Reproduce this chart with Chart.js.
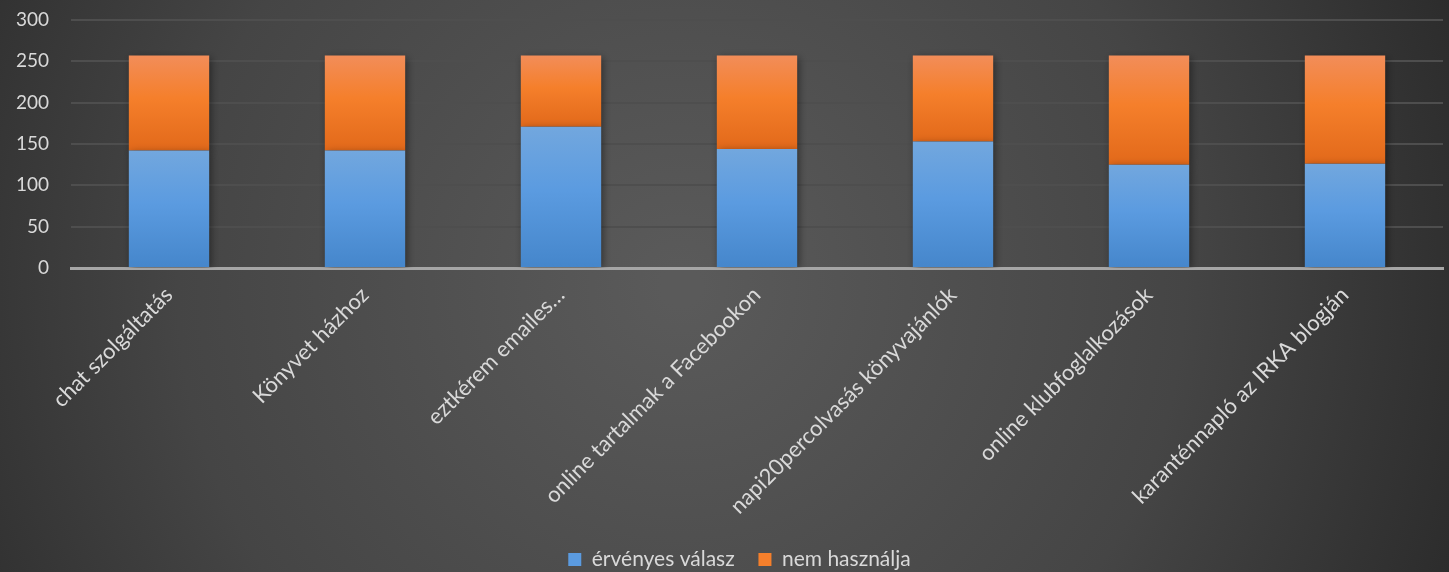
<!DOCTYPE html>
<html>
<head>
<meta charset="utf-8">
<script src="https://cdn.jsdelivr.net/npm/chart.js@4"></script>
<style>
  html, body { margin: 0; padding: 0; background: #3a3a3a; }
  #wrap { width: 1449px; height: 572px; }
</style>
</head>
<body>
<div id="wrap"><canvas id="grafico"></canvas></div>
<script>
// --- adatok ---
const kategoriak = [
    'chat szolgáltatás',
    'Könyvet házhoz',
    'eztkérem emailes…',
    'online tartalmak a Facebookon',
    'napi20percolvasás könyvajánlók',
    'online klubfoglalkozások',
    'karanténnapló az IRKA blogján'
];
const ervenyesValasz = [142, 142, 171, 144, 153, 125, 126];
const nemHasznalja = [115, 115, 86, 113, 104, 132, 131];
const yTicks = [0, 50, 100, 150, 200, 250, 300];

const szovegSzin = '#d9d9d9';
const betu = 'Lato, "Open Sans", sans-serif';

// sötét, középen világosabb háttér
const hatter = {
    id: 'hatter',
    beforeDraw(chart) {
        const { ctx, width, height } = chart;
        const g = ctx.createRadialGradient(width * 0.47, height * 0.5, 20, width * 0.47, height * 0.5, width * 0.62);
        g.addColorStop(0, '#5a5a5a');
        g.addColorStop(0.55, '#454545');
        g.addColorStop(1, '#262626');
        ctx.save();
        ctx.fillStyle = g;
        ctx.fillRect(0, 0, width, height);
        ctx.restore();
    }
};

// oszlopok alatti enyhe árnyék
const arnyek = {
    id: 'arnyek',
    beforeDatasetsDraw(chart) {
        const ctx = chart.ctx;
        ctx.save();
        ctx.shadowColor = 'rgba(0,0,0,0.45)';
        ctx.shadowBlur = 8;
        ctx.shadowOffsetX = 2;
        ctx.shadowOffsetY = 2;
    },
    afterDatasetsDraw(chart) {
        chart.ctx.restore();
    }
};

// jelmagyarázat kicsit jobbra, mint az eredetin
const legendEltolas = {
    id: 'legendEltolas',
    afterLayout(chart) {
        if (chart.legend) {
            chart.legend.left += 18;
            chart.legend.right += 18;
        }
    }
};

function szakaszGradiens(ctx, alsoErtek, felsoErtek, szinek) {
    const chart = ctx.chart;
    const y = chart.scales.y;
    if (!y || !chart.chartArea) return szinek[1];
    const y0 = y.getPixelForValue(alsoErtek);
    const y1 = y.getPixelForValue(felsoErtek);
    const g = chart.ctx.createLinearGradient(0, y1, 0, y0);
    g.addColorStop(0, szinek[0]);
    g.addColorStop(0.45, szinek[1]);
    g.addColorStop(1, szinek[2]);
    return g;
}

const kekSzinek = ['#72a7de', '#5b9be0', '#4586cb'];
const narancsSzinek = ['#f28d59', '#f57f2b', '#e2691a'];

new Chart(document.getElementById('grafico'), {
    type: 'bar',
    data: {
        labels: kategoriak,
        datasets: [
            {
                label: 'érvényes válasz',
                data: ervenyesValasz,
                backgroundColor: (c) => {
                    if (c.type !== 'data') return '#5b9bd5';
                    return szakaszGradiens(c, 0, ervenyesValasz[c.dataIndex], kekSzinek);
                },
                barPercentage: 0.41,
                categoryPercentage: 1
            },
            {
                label: 'nem használja',
                data: nemHasznalja,
                backgroundColor: (c) => {
                    if (c.type !== 'data') return '#ed7d31';
                    const alja = ervenyesValasz[c.dataIndex];
                    return szakaszGradiens(c, alja, alja + nemHasznalja[c.dataIndex], narancsSzinek);
                },
                barPercentage: 0.41,
                categoryPercentage: 1
            }
        ]
    },
    options: {
        responsive: true,
        maintainAspectRatio: false,
        animation: false,
        layout: { padding: { left: 0, right: 6, top: 20, bottom: -8 } },
        plugins: {
            legend: {
                position: 'bottom',
                labels: {
                    color: szovegSzin,
                    font: { family: betu, size: 21 },
                    boxWidth: 13,
                    boxHeight: 13,
                    padding: 8,
                    generateLabels: (chart) => {
                        const elemek = Chart.defaults.plugins.legend.labels.generateLabels(chart);
                        elemek.forEach((e, i) => {
                            e.fillStyle = i === 0 ? '#5b9be0' : '#f57f2b';
                            e.strokeStyle = 'rgba(0,0,0,0)';
                            e.lineWidth = 0;
                            if (i < elemek.length - 1) e.text += '\u2003';
                        });
                        return elemek;
                    }
                }
            },
            tooltip: { enabled: false }
        },
        scales: {
            x: {
                stacked: true,
                grid: { display: false, drawTicks: false },
                border: { color: '#a6a6a6', width: 3 },
                ticks: {
                    color: szovegSzin,
                    font: { family: betu, size: 22 },
                    minRotation: 45,
                    maxRotation: 45,
                    autoSkip: false,
                    padding: 14
                },
                afterFit: (s) => { s.height = 273; s.paddingLeft = 0; s.paddingRight = 0; }
            },
            y: {
                stacked: true,
                min: 0,
                max: 300,
                afterBuildTicks: (ax) => { ax.ticks = yTicks.map(v => ({ value: v })); },
                grid: { color: '#4e4e4e', lineWidth: 2, drawTicks: false },
                border: { display: false },
                ticks: {
                    color: szovegSzin,
                    font: { family: betu, size: 19 },
                    padding: 22
                },
                afterFit: (s) => { s.width = 71; s.paddingTop = 0; s.paddingBottom = 0; }
            }
        }
    },
    plugins: [hatter, arnyek, legendEltolas]
});
</script>
</body>
</html>
